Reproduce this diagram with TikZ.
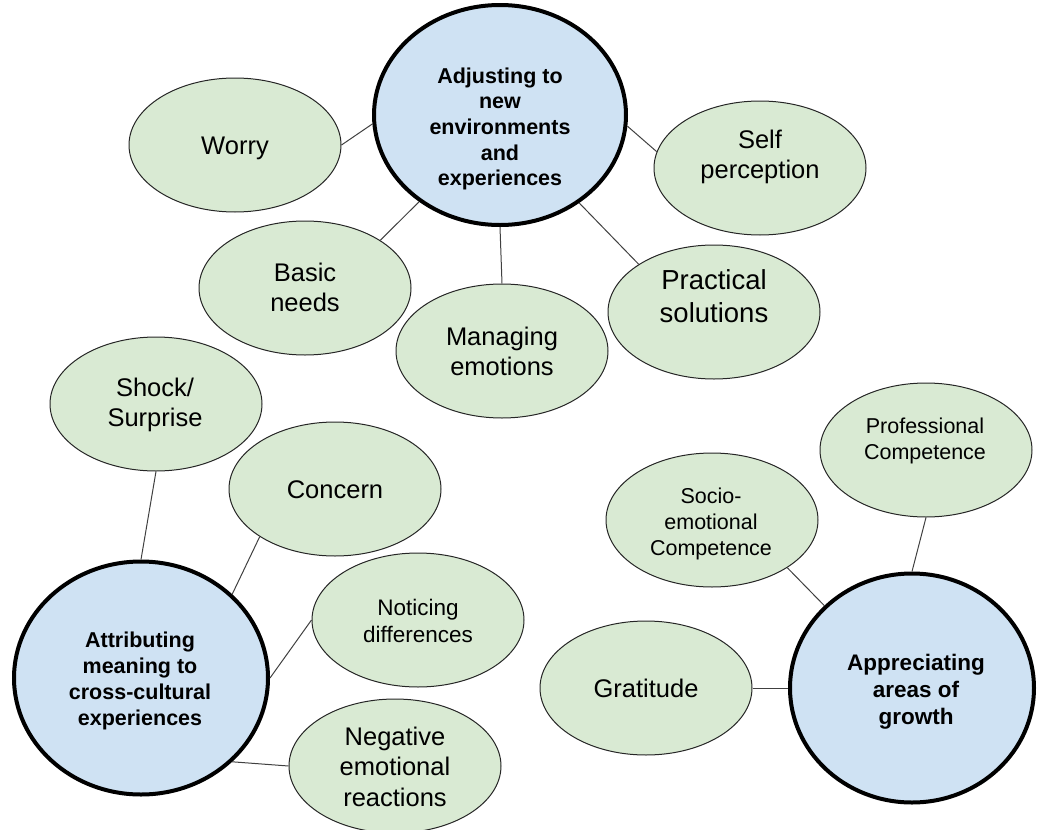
\documentclass[tikz,border=0pt]{standalone}
\usepackage{fontspec}
\setmainfont{Liberation Sans}
\usetikzlibrary{shapes.geometric}
\definecolor{leafgreen}{HTML}{D9EAD3}
\definecolor{hubblue}{HTML}{CFE2F3}
% strut so every text block is centred on the same line box
\newcommand{\lbox}{\rule[-0.21em]{0pt}{0.75em}}
\begin{document}
\begin{tikzpicture}[x=1pt,y=-1pt,
  leaf/.style={ellipse, draw=black!85, line width=1pt, fill=leafgreen,
    inner sep=0pt, minimum width=212pt, minimum height=134pt},
  hub/.style={ellipse, draw=black, line width=4pt, fill=hubblue, inner sep=0pt},
  leaftext/.style={inner sep=0pt, align=center, font=\fontsize{25.5}{30.5}\selectfont},
  smalltext/.style={leaftext, font=\fontsize{21.5}{25.7}\selectfont},
  hubtext/.style={inner sep=0pt, align=center,
    font=\fontsize{21.5}{25.7}\selectfont\bfseries},
  link/.style={draw=black!75, line width=1pt}]
\useasboundingbox (0,0) rectangle (1037,830);

% theme hubs
\node[hub, minimum width=252pt, minimum height=220pt] (adj) at (500,115) {};
\node[hubtext] (adjt) at (500,129) {\lbox Adjusting to\\new\\environments\\and\\experiences\lbox};
\node[hub, minimum width=254pt, minimum height=233pt] (attr) at (141,678) {};
\node[hubtext] (attrt) at (140,681) {\lbox Attributing\\meaning to\\cross-cultural\\experiences\lbox};
\node[hub, minimum width=244pt, minimum height=229pt] (grow) at (912,688) {};
\node[hubtext, font=\fontsize{22.5}{27}\selectfont\bfseries] (growt) at (916,692)
  {\lbox Appreciating\\areas of\\growth\lbox};

% sub-themes
\node[leaf] (worry) at (235,145) {};
\node[leaftext] (worryt) at (235,148) {\lbox Worry\lbox};
\node[leaf] (self) at (760,168) {};
\node[leaftext] (selft) at (760,157) {\lbox Self\\perception\lbox};
\node[leaf] (basic) at (305,288) {};
\node[leaftext] (basict) at (305,290) {\lbox Basic\\needs\lbox};
\node[leaf] (manage) at (502,351) {};
\node[leaftext] (managet) at (502,354) {\lbox Managing\\emotions\lbox};
\node[leaf] (practical) at (714,312) {};
\node[leaftext, font=\fontsize{27.5}{33}\selectfont] (practicalt) at (714,299)
  {\lbox Practical\\solutions\lbox};
\node[leaf] (shock) at (156,404) {};
\node[leaftext] (shockt) at (155,405) {\lbox Shock/\\Surprise\lbox};
\node[leaf] (concern) at (335,489) {};
\node[leaftext] (concernt) at (335,492) {\lbox Concern\lbox};
\node[leaf] (notice) at (418,620) {};
\node[leaftext, font=\fontsize{22.5}{27}\selectfont] (noticet) at (418,623)
  {\lbox Noticing\\differences\lbox};
\node[leaf] (negative) at (395,766) {};
\node[leaftext] (negativet) at (395,769) {\lbox Negative\\emotional\\reactions\lbox};
\node[leaf] (prof) at (926,450) {};
\node[smalltext] (proft) at (925,441) {\lbox Professional\\Competence\lbox};
\node[leaf] (socio) at (712,520) {};
\node[smalltext] (sociot) at (711,524) {\lbox Socio-\\emotional\\Competence\lbox};
\node[leaf] (grat) at (646,688) {};
\node[leaftext] (gratt) at (646,691) {\lbox Gratitude\lbox};

% connectors
\draw[link] (worry.east) -- (adj.184);
\draw[link] (self.171) -- (adj.-5);
\draw[link] (basic.north east) -- (adj.227);
\draw[link] (manage.north) -- (adj.south);
\draw[link] (practical.north west) -- (adj.-48);
\draw[link] (shock.south) -- (attr.north);
\draw[link] (concern.south west) -- (attr.north east);
\draw[link] (notice.west) -- (attr.east);
\draw[link] (negative.west) -- (attr.south east);
\draw[link] (prof.south) -- (grow.north);
\draw[link] (socio.south east) -- (grow.north west);
\draw[link] (grat.east) -- (grow.west);
\end{tikzpicture}
\end{document}
